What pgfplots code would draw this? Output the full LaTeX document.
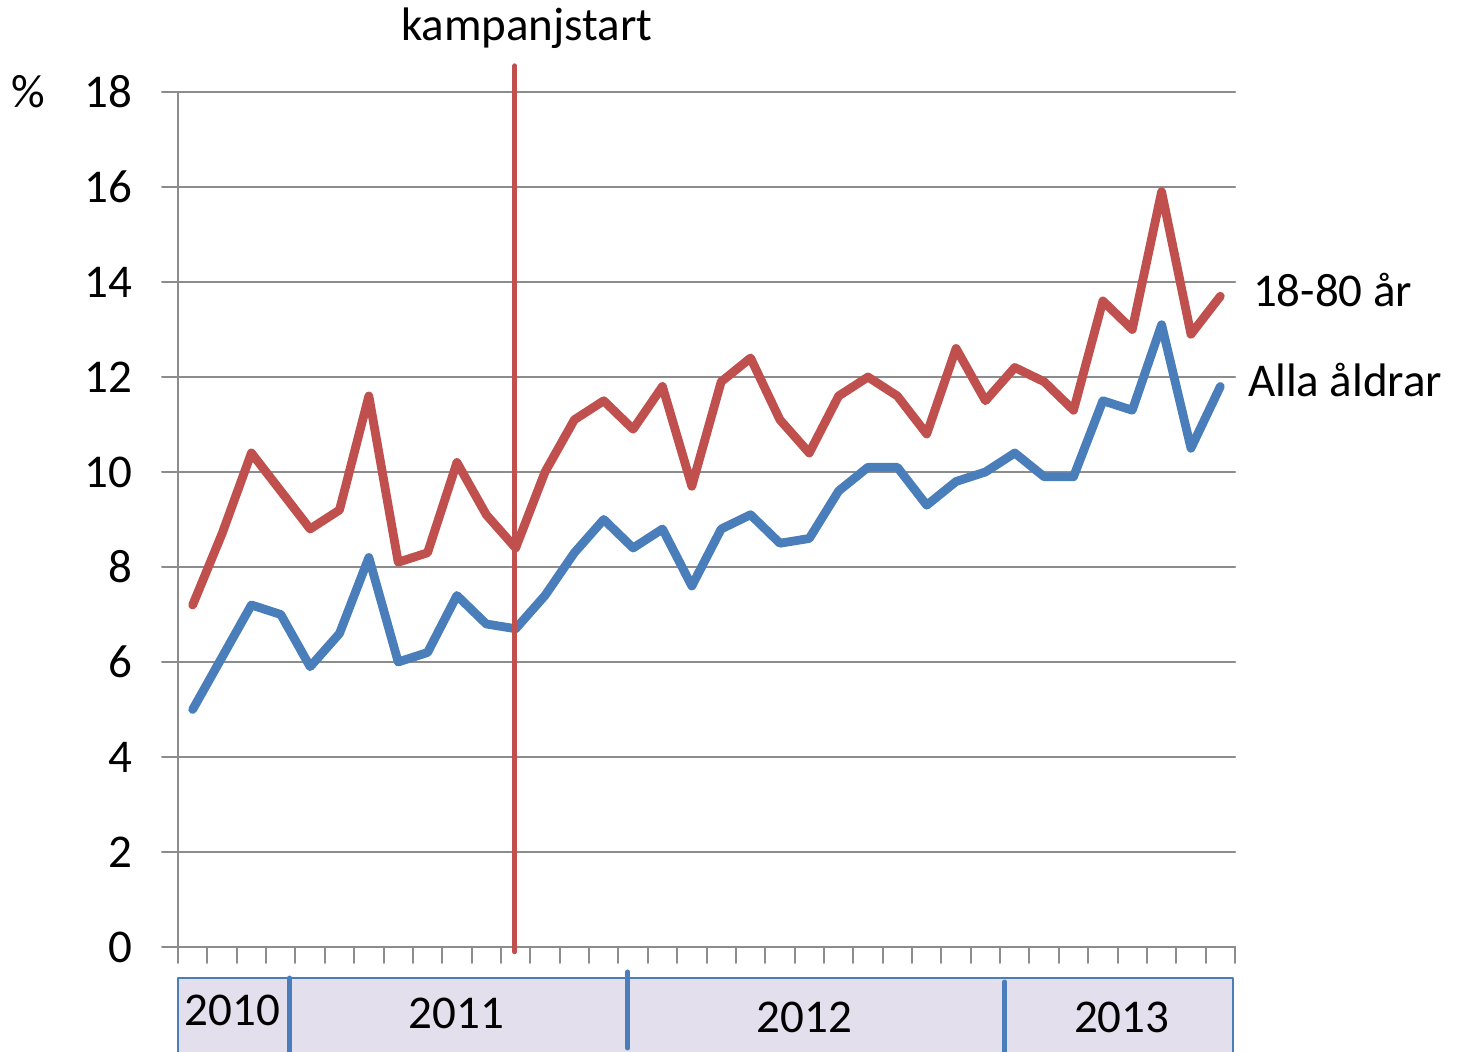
\documentclass[border=0pt]{standalone}
\usepackage{fontspec}
\setmainfont{Carlito}
\usepackage{pgfplots}
\pgfplotsset{compat=1.18}

\definecolor{serred}{HTML}{C0504D}
\definecolor{serblue}{HTML}{4A7EBB}
\definecolor{gridgray}{HTML}{8C8C8C}
\definecolor{boxfill}{HTML}{E4DFEC}

\begin{document}
\fontsize{23.5}{28}\selectfont
\begin{tikzpicture}
\begin{axis}[
    scale only axis,
    width=528.5pt, height=427.5pt,
    xmin=-0.5, xmax=35.5,
    ymin=0, ymax=18,
    ytick={0,2,...,18},
    xtick={-0.5,0.5,...,35.5},
    xticklabels={},
    axis x line=bottom, axis y line=left,
    axis line style={gridgray, line width=1pt, -},
    tick align=outside,
    major tick length=8pt,
    tick style={gridgray, line width=1pt},
    ymajorgrids=true,
    grid style={gridgray, line width=1.2pt},
    /pgf/number format/assume math mode=true,
    yticklabel style={font=\fontsize{23.5}{28}\selectfont, xshift=-7pt},
    clip=false,
    line join=round, line cap=round,
]

% 18-80 år
\addplot[serred, line width=4.4pt] coordinates {
(0,7.2)(1,8.7)(2,10.4)(3,9.6)(4,8.8)(5,9.2)(6,11.6)(7,8.1)(8,8.3)(9,10.2)
(10,9.1)(11,8.4)(12,10.0)(13,11.1)(14,11.5)(15,10.9)(16,11.8)(17,9.7)(18,11.9)
(19,12.4)(20,11.1)(21,10.4)(22,11.6)(23,12.0)(24,11.6)(25,10.8)(26,12.6)(27,11.5)
(28,12.2)(29,11.9)(30,11.3)(31,13.6)(32,13.0)(33,15.9)(34,12.9)(35,13.7)
};

% Alla åldrar
\addplot[serblue, line width=4.4pt] coordinates {
(0,5.0)(1,6.1)(2,7.2)(3,7.0)(4,5.9)(5,6.6)(6,8.2)(7,6.0)(8,6.2)(9,7.4)
(10,6.8)(11,6.7)(12,7.4)(13,8.3)(14,9.0)(15,8.4)(16,8.8)(17,7.6)(18,8.8)
(19,9.1)(20,8.5)(21,8.6)(22,9.6)(23,10.1)(24,10.1)(25,9.3)(26,9.8)(27,10.0)
(28,10.4)(29,9.9)(30,9.9)(31,11.5)(32,11.3)(33,13.1)(34,10.5)(35,11.8)
};

% campaign start
\draw[serred, line width=2.5pt] (axis cs:10.97,-0.1) -- (axis cs:10.97,18.55);
\node at (axis cs:11.38,18) [yshift=32pt] {kampanjstart};

% series labels
\node[anchor=west, inner sep=0pt] at (axis cs:36.1,13.83) {18-80 år};
\node[anchor=west, inner sep=0pt] at (axis cs:35.93,11.94) {Alla åldrar};

% % sign
\node at (rel axis cs:0,1) [xshift=-75pt] {\%};

% year band
\fill[boxfill] (axis cs:-0.5,-0.653) rectangle (axis cs:35.42,-2.4);
\draw[serblue, line width=1pt] (axis cs:-0.5,-2.4) -- (axis cs:-0.5,-0.653)
    -- (axis cs:35.42,-0.653) -- (axis cs:35.42,-2.4);
\draw[serblue, line width=2.5pt] (axis cs:3.30,-0.653) -- (axis cs:3.30,-2.4);
\draw[serblue, line width=2.5pt] (axis cs:14.82,-0.526) -- (axis cs:14.82,-2.126);
\draw[serblue, line width=2.5pt] (axis cs:27.66,-0.737) -- (axis cs:27.66,-2.4);
\node at (axis cs:1.36,-1.33) {2010};
\node at (axis cs:8.99,-1.39) {2011};
\node at (axis cs:20.84,-1.49) {2012};
\node at (axis cs:31.64,-1.49) {2013};
\end{axis}
\pgfresetboundingbox
\path ([shift={(-89pt,-52.5pt)}]current axis.south west)
    rectangle ([shift={(112.5pt,46pt)}]current axis.north east);
\end{tikzpicture}
\end{document}
